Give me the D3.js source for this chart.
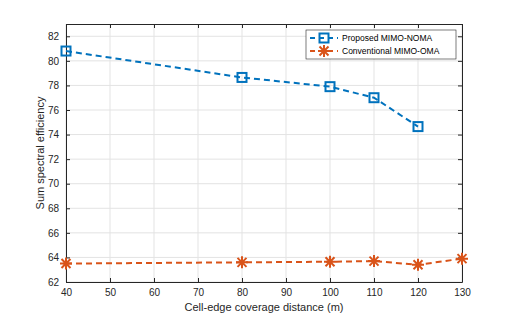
<!DOCTYPE html>
<html lang="en">
<head>
<meta charset="utf-8">
<title>Sum spectral efficiency</title>
<script src="https://d3js.org/d3.v7.min.js"></script>
<style>
  body { margin: 0; background: #fff; }
  svg { font-family: "Liberation Sans", Arial, sans-serif; }
</style>
</head>
<body>
<script>
  const xTicks = [40, 50, 60, 70, 80, 90, 100, 110, 120, 130]
  const yTicks = [62, 64, 66, 68, 70, 72, 74, 76, 78, 80, 82]
  const nomaX = [40, 80, 100, 110, 120]
  const nomaY = [80.8, 78.65, 77.9, 77.0, 74.65]
  const omaX = [40, 80, 100, 110, 120, 130]
  const omaY = [63.5, 63.6, 63.65, 63.7, 63.4, 63.9]
  const seriesNames = ["Proposed MIMO-NOMA", "Conventional MIMO-OMA"]

  const w = 512, h = 317
  const mLeft = 66, mRight = 462, mTop = 24, mBottom = 282

  const svg = d3.select("body").append("svg")
    .attr("width", w).attr("height", h)

  const x = d3.scaleLinear().domain([40, 130]).range([mLeft, mRight])
  const y = d3.scaleLinear().domain([62, 83]).range([mBottom, mTop])

  // grid
  const grid = svg.append("g")
  grid.selectAll("line.gx").data(xTicks).enter().append("line")
    .attr("x1", d => x(d)).attr("x2", d => x(d))
    .attr("y1", mTop).attr("y2", mBottom)
    .attr("stroke", "#e3e3e3").attr("stroke-width", 1)
  grid.selectAll("line.gy").data(yTicks).enter().append("line")
    .attr("x1", mLeft).attr("x2", mRight)
    .attr("y1", d => y(d)).attr("y2", d => y(d))
    .attr("stroke", "#e3e3e3").attr("stroke-width", 1)

  // axes
  const axisStyle = g => {
    g.select(".domain").attr("stroke", "#262626")
    g.selectAll(".tick line").attr("stroke", "#262626")
    g.selectAll(".tick text").attr("fill", "#262626").attr("font-size", "10px")
  }
  svg.append("g").attr("transform", `translate(0,${mBottom})`)
    .call(d3.axisBottom(x).tickValues(xTicks).tickSizeInner(-4).tickSizeOuter(0).tickPadding(7))
    .call(axisStyle)
  svg.append("g").attr("transform", `translate(0,${mTop})`)
    .call(d3.axisTop(x).tickValues(xTicks).tickSizeInner(-4).tickSizeOuter(0).tickFormat(""))
    .call(axisStyle)
  svg.append("g").attr("transform", `translate(${mLeft},0)`)
    .call(d3.axisLeft(y).tickValues(yTicks).tickSizeInner(-4).tickSizeOuter(0).tickPadding(7))
    .call(axisStyle)
  svg.append("g").attr("transform", `translate(${mRight},0)`)
    .call(d3.axisRight(y).tickValues(yTicks).tickSizeInner(-4).tickSizeOuter(0).tickFormat(""))
    .call(axisStyle)

  // labels
  svg.append("text").attr("x", (mLeft + mRight) / 2).attr("y", 311)
    .attr("text-anchor", "middle").attr("font-size", "11px").attr("fill", "#262626")
    .text("Cell-edge coverage distance (m)")
  svg.append("text").attr("transform", `translate(44,${(mTop + mBottom) / 2}) rotate(-90)`)
    .attr("text-anchor", "middle").attr("font-size", "11px").attr("fill", "#262626")
    .text("Sum spectral efficiency")

  const blue = "#0072BD", orange = "#D95319"
  const line = d3.line().x(d => x(d[0])).y(d => y(d[1]))
  const noma = nomaX.map((v, i) => [v, nomaY[i]])
  const oma = omaX.map((v, i) => [v, omaY[i]])

  svg.append("path").datum(noma).attr("d", line)
    .attr("fill", "none").attr("stroke", blue).attr("stroke-width", 2).attr("stroke-dasharray", "6,4")
  svg.append("path").datum(oma).attr("d", line)
    .attr("fill", "none").attr("stroke", orange).attr("stroke-width", 2).attr("stroke-dasharray", "6,4")

  const square = (g, cx, cy) => {
    g.append("rect").attr("x", cx - 4.5).attr("y", cy - 4.5).attr("width", 9).attr("height", 9)
      .attr("fill", "none").attr("stroke", blue).attr("stroke-width", 2)
  }
  const star = (g, cx, cy) => {
    const r = 6
    g.append("path")
      .attr("d", `M${cx - r},${cy}H${cx + r}M${cx},${cy - r}V${cy + r}` +
        `M${cx - r * 0.75},${cy - r * 0.75}L${cx + r * 0.75},${cy + r * 0.75}` +
        `M${cx - r * 0.75},${cy + r * 0.75}L${cx + r * 0.75},${cy - r * 0.75}`)
      .attr("stroke", orange).attr("stroke-width", 2).attr("fill", "none")
  }
  const marks = svg.append("g")
  noma.forEach(d => square(marks, x(d[0]), y(d[1])))
  oma.forEach(d => star(marks, x(d[0]), y(d[1])))

  // legend
  const lg = svg.append("g").attr("transform", "translate(306,30)")
  lg.append("rect").attr("width", 150).attr("height", 29)
    .attr("fill", "#fff").attr("stroke", "#262626").attr("stroke-width", 0.6)
  seriesNames.forEach((name, i) => {
    const ly = 8 + i * 13
    const col = i === 0 ? blue : orange
    lg.append("line").attr("x1", 4).attr("x2", 32).attr("y1", ly).attr("y2", ly)
      .attr("stroke", col).attr("stroke-width", 2).attr("stroke-dasharray", "5,4")
    if (i === 0) square(lg, 18, ly)
    else star(lg, 18, ly)
    lg.append("text").attr("x", 36).attr("y", ly + 3).attr("font-size", "8.5px")
      .attr("fill", "#000").text(name)
  })
</script>
</body>
</html>
